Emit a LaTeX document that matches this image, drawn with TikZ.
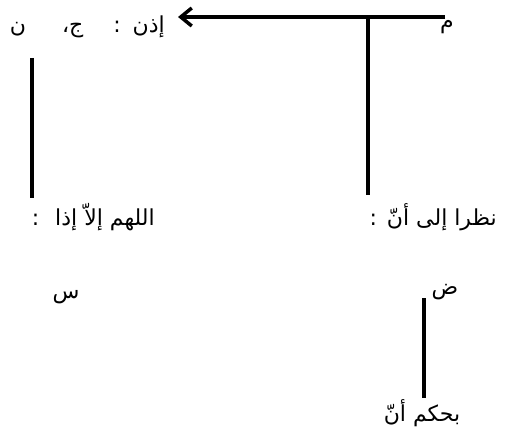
\documentclass[tikz,border=0pt]{standalone}
\usepackage{fontspec}
\usetikzlibrary{arrows.meta}
\newfontfamily\arabicfont[Script=Arabic]{DejaVu Sans}
\TeXXeTstate=1
\begin{document}
\begin{tikzpicture}[x=1pt,y=-1pt,
  lbl/.style={inner sep=0pt,font=\arabicfont\fontsize{22}{26}\selectfont},
  link/.style={line width=3.5pt}]
\useasboundingbox (0,0) rectangle (505,443);
\node[lbl] (m) at (447,27) {\beginR م\endR};
\node[lbl,anchor=east] (idhn) at (165,27) {\beginR إذن\hspace{12pt}:\hspace{30pt}ج،\hspace{36pt}ن\endR};
\node[lbl,anchor=east] (nazar) at (497,217) {\beginR نظرا إلى أنّ\hspace{10pt}:\endR};
\node[lbl,anchor=east] (allah) at (155,217) {\beginR اللهم إلاّ إذا\hspace{16pt}:\endR};
\node[lbl] (sin) at (66,297) {\beginR س\endR};
\node[lbl] (dad) at (445,292) {\beginR ض\endR};
\node[lbl] (bihukm) at (422,413) {\beginR بحكم أنّ\endR};
\coordinate (a1) at (445,17);
\coordinate (a2) at (178,17);
\coordinate (j) at (368,17);
\coordinate (j2) at (368,195);
\coordinate (l1) at (32,58);
\coordinate (l2) at (32,198);
\coordinate (d1) at (424,298);
\coordinate (d2) at (424,398);
\draw[link,-{Straight Barb[length=11pt,width=18pt]}] (a1) -- (a2);
\draw[link] (j) -- (j2);
\draw[link] (l1) -- (l2);
\draw[link] (d1) -- (d2);
\end{tikzpicture}
\end{document}
